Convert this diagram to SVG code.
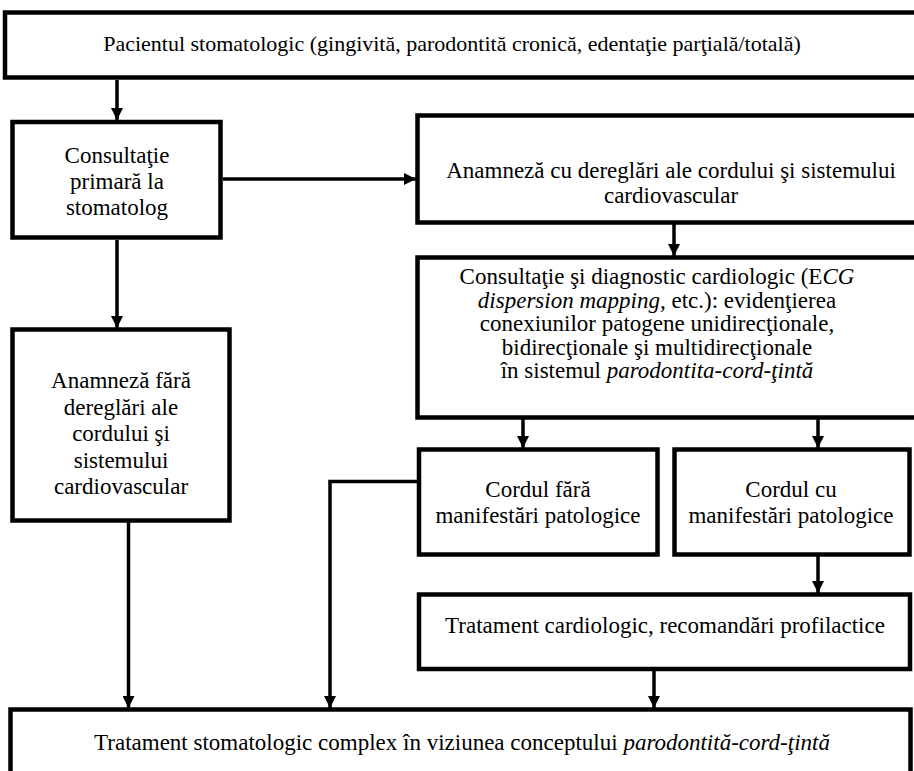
<svg xmlns="http://www.w3.org/2000/svg" width="914" height="771" viewBox="0 0 914 771">
<style>
.box{fill:#fff;stroke:#000;stroke-width:4.5}
.t{font-family:"Times New Roman",Times,"Liberation Serif","DejaVu Serif","Noto Serif",Tinos,FreeSerif,serif;font-size:23px;fill:#000;text-anchor:middle}
.i{font-style:italic}
.c{fill:none;stroke:#000;stroke-width:3.5}
</style>
<defs>
<marker id="ah" viewBox="0 0 12 12" refX="12" refY="6" markerWidth="12" markerHeight="12" markerUnits="userSpaceOnUse" orient="auto">
<path d="M0,0 L12,6 L0,12 Z" fill="#000"/>
</marker>
</defs>
<rect width="914" height="771" fill="#fff"/>
<g id="connectors">
<line class="c" x1="117" y1="80" x2="117" y2="120" marker-end="url(#ah)"/>
<line class="c" x1="223" y1="179" x2="416" y2="179" marker-end="url(#ah)"/>
<line class="c" x1="117" y1="240" x2="117" y2="328" marker-end="url(#ah)"/>
<line class="c" x1="674" y1="224" x2="674" y2="256" marker-end="url(#ah)"/>
<line class="c" x1="523" y1="419" x2="523" y2="448" marker-end="url(#ah)"/>
<line class="c" x1="818" y1="419" x2="818" y2="448" marker-end="url(#ah)"/>
<line class="c" x1="818" y1="556" x2="818" y2="593" marker-end="url(#ah)"/>
<line class="c" x1="654" y1="671" x2="654" y2="708" marker-end="url(#ah)"/>
<line class="c" x1="128.5" y1="522" x2="128.5" y2="708" marker-end="url(#ah)"/>
<polyline class="c" points="418,481.5 330,481.5 330,708" marker-end="url(#ah)"/>
</g>
<g id="n1">
<rect class="box" x="5" y="12.5" width="930" height="65"/>
<text class="t" x="452" y="51" style="font-size:22px">Pacientul stomatologic (gingivită, parodontită cronică, edentaţie parţială/totală)</text>
</g>
<g id="n2">
<rect class="box" x="12.5" y="122" width="208" height="115.5"/>
<text class="t" x="117" y="163">Consultaţie</text>
<text class="t" x="117" y="189">primară la</text>
<text class="t" x="117" y="215">stomatolog</text>
</g>
<g id="n3">
<rect class="box" x="417.5" y="115.5" width="520" height="107"/>
<text class="t" x="671" y="178">Anamneză cu dereglări ale cordului şi sistemului</text>
<text class="t" x="671" y="203">cardiovascular</text>
</g>
<g id="n4">
<rect class="box" x="417.5" y="257.5" width="520" height="160"/>
<text class="t" x="657" y="284">Consultaţie şi diagnostic cardiologic (E<tspan class="i">CG</tspan></text>
<text class="t" x="657" y="307.5"><tspan class="i">dispersion mapping,</tspan> etc.): evidenţierea</text>
<text class="t" x="657" y="331">conexiunilor patogene unidirecţionale,</text>
<text class="t" x="657" y="354.5">bidirecţionale şi multidirecţionale</text>
<text class="t" x="657" y="378">în sistemul <tspan class="i">parodontita-cord-ţintă</tspan></text>
</g>
<g id="n5">
<rect class="box" x="12.5" y="329.5" width="217" height="191"/>
<text class="t" x="121" y="388">Anamneză fără</text>
<text class="t" x="121" y="414.5">dereglări ale</text>
<text class="t" x="121" y="441">cordului şi</text>
<text class="t" x="121" y="467.5">sistemului</text>
<text class="t" x="121" y="494">cardiovascular</text>
</g>
<g id="n6">
<rect class="box" x="419" y="449.5" width="238.5" height="105"/>
<text class="t" x="538" y="497">Cordul fără</text>
<text class="t" x="538" y="523">manifestări patologice</text>
</g>
<g id="n7">
<rect class="box" x="674.5" y="449.5" width="235" height="105"/>
<text class="t" x="791" y="497">Cordul cu</text>
<text class="t" x="791" y="523">manifestări patologice</text>
</g>
<g id="n8">
<rect class="box" x="419" y="594.5" width="491" height="74.5"/>
<text class="t" x="665" y="633">Tratament cardiologic, recomandări profilactice</text>
</g>
<g id="n9">
<rect class="box" x="10.5" y="709.5" width="900" height="90"/>
<text class="t" x="462" y="750">Tratament stomatologic complex în viziunea conceptului <tspan class="i">parodontită-cord-ţintă</tspan></text>
</g>
</svg>
